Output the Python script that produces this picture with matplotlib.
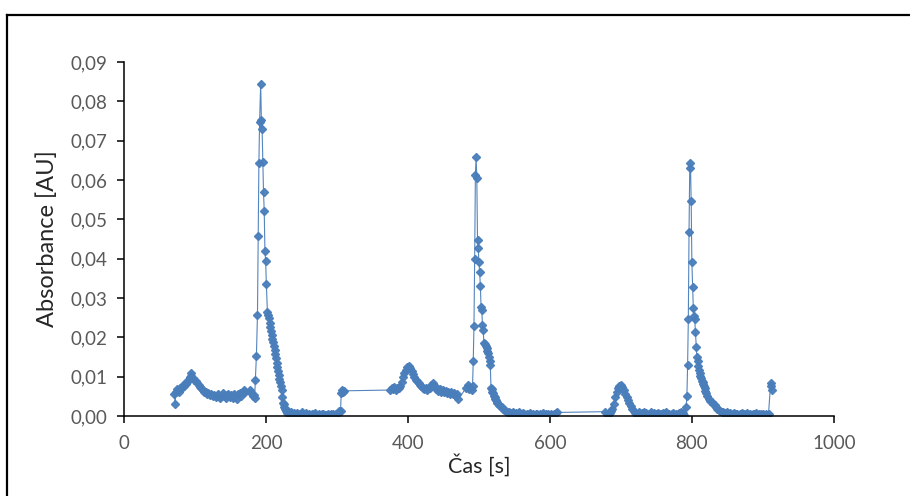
import matplotlib

matplotlib.use("Agg")
import matplotlib.pyplot as plt
from matplotlib.lines import Line2D
from matplotlib.ticker import FuncFormatter, MultipleLocator

# ─────────────────────────────────────────────
# DATA
# ─────────────────────────────────────────────
# baseline + malý pík ~95 s
t_a = [71, 72, 73, 75, 77, 79, 81, 83, 85, 87, 89, 91, 93, 94, 95, 97, 99, 101, 103, 105,
       107, 109, 111, 113, 115, 117, 119, 121, 123, 125, 127, 129, 131, 133, 135, 137, 139,
       141, 143, 145, 147, 149, 151, 153, 155, 157, 159, 161, 163, 165, 167, 169, 171, 177,
       179, 181, 183, 184]
a_a = [0.0055, 0.0030, 0.0060, 0.0068, 0.0062, 0.0072, 0.0070, 0.0078, 0.0075, 0.0082,
       0.0088, 0.0092, 0.0100, 0.0110, 0.0102, 0.0096, 0.0092, 0.0088, 0.0084, 0.0078,
       0.0074, 0.0070, 0.0066, 0.0062, 0.0060, 0.0056, 0.0058, 0.0053, 0.0055, 0.0050,
       0.0054, 0.0048, 0.0052, 0.0056, 0.0047, 0.0052, 0.0058, 0.0050, 0.0046, 0.0053,
       0.0057, 0.0049, 0.0054, 0.0045, 0.0056, 0.0051, 0.0042, 0.0055, 0.0059, 0.0050,
       0.0062, 0.0066, 0.0060, 0.0066, 0.0058, 0.0050, 0.0054, 0.0045]

# pík 1
t_p1 = [185, 186.5, 188, 189, 190, 191, 192.5, 193.5, 194.5, 195.5, 196.5, 197.5, 198.5,
        199.5, 200.5, 202, 203, 204, 205, 206, 207, 208, 209, 210, 211, 212, 213, 214, 215,
        216, 217, 218, 219, 220, 221, 222, 223, 224, 225, 226, 227, 228]
a_p1 = [0.0092, 0.0153, 0.0258, 0.0458, 0.0644, 0.0748, 0.0845, 0.0752, 0.0730, 0.0645,
        0.0570, 0.0521, 0.0420, 0.0394, 0.0336, 0.0265, 0.0256, 0.0248, 0.0237, 0.0227,
        0.0216, 0.0206, 0.0197, 0.0189, 0.0178, 0.0168, 0.0157, 0.0147, 0.0136, 0.0125,
        0.0114, 0.0104, 0.0095, 0.0087, 0.0076, 0.0066, 0.0048, 0.0034, 0.0030, 0.0024,
        0.0019, 0.0013]

# nula po píku 1
t_b = [229, 231, 233, 235, 237, 239, 241, 243, 245, 247, 249, 251, 253, 255, 257, 259, 261,
       263, 265, 267, 269, 271, 273, 275, 277, 279, 281, 283, 285, 287, 289, 291, 293, 295,
       297, 299, 301, 303]
a_b = [0.0008, 0.0012, 0.0006, 0.0009, 0.0004, 0.0007, 0.0003, 0.0008, 0.0005, 0.0002,
       0.0006, 0.0009, 0.0004, 0.0003, 0.0007, 0.0002, 0.0005, 0.0001, 0.0006, 0.0004,
       0.0008, 0.0003, 0.0002, 0.0005, 0.0001, 0.0004, 0.0006, 0.0002, 0.0003, 0.0005,
       0.0001, 0.0004, 0.0002, 0.0006, 0.0003, 0.0005, 0.0008, 0.0012]

t_j = [305, 306, 307, 308, 310]
a_j = [0.0012, 0.0058, 0.0066, 0.0060, 0.0064]

# baseline + malý pík ~400 s
t_c = [375, 377, 379, 381, 383, 385, 387, 389, 391, 393, 395, 397, 399, 401, 403, 405, 407,
       409, 411, 413, 415, 417, 419, 421, 423, 425, 427, 429, 431, 433, 435, 437, 439, 441,
       443, 445, 447, 449, 451, 453, 455, 457, 459, 461, 463, 465, 467, 469, 471, 482, 484,
       486, 488, 490, 491]
a_c = [0.0066, 0.0070, 0.0068, 0.0074, 0.0066, 0.0072, 0.0070, 0.0076, 0.0086, 0.0100,
       0.0110, 0.0118, 0.0124, 0.0128, 0.0122, 0.0114, 0.0106, 0.0098, 0.0092, 0.0088,
       0.0084, 0.0080, 0.0076, 0.0072, 0.0068, 0.0070, 0.0066, 0.0072, 0.0070, 0.0078,
       0.0084, 0.0076, 0.0068, 0.0072, 0.0064, 0.0068, 0.0062, 0.0066, 0.0060, 0.0064,
       0.0058, 0.0062, 0.0056, 0.0060, 0.0055, 0.0058, 0.0052, 0.0056, 0.0042, 0.0072,
       0.0078, 0.0068, 0.0074, 0.0066, 0.0076]

# pík 2
t_p2 = [492, 493, 494, 495, 496, 497, 498, 499, 500, 501, 502, 503, 504, 505, 506, 507, 509,
        510, 511, 512, 513, 514, 515, 516, 517, 518, 519, 520, 521, 522, 523, 524, 525, 526,
        528, 530, 532, 534, 536, 538, 540, 542, 544]
a_p2 = [0.0141, 0.0229, 0.0400, 0.0613, 0.0658, 0.0606, 0.0447, 0.0426, 0.0392, 0.0367,
        0.0331, 0.0278, 0.0270, 0.0231, 0.0219, 0.0185, 0.0182, 0.0178, 0.0172, 0.0165,
        0.0160, 0.0151, 0.0140, 0.0130, 0.0070, 0.0068, 0.0062, 0.0058, 0.0052, 0.0049,
        0.0044, 0.0040, 0.0036, 0.0032, 0.0028, 0.0025, 0.0022, 0.0018, 0.0015, 0.0013,
        0.0011, 0.0010, 0.0008]

# nula po píku 2
t_d = [546, 548, 550, 552, 554, 556, 558, 560, 562, 564, 566, 568, 570, 572, 574, 576, 578,
       580, 582, 584, 586, 588, 590, 592, 594, 596, 598, 600, 602, 604, 606, 608, 610]
a_d = [0.0007, 0.0010, 0.0005, 0.0008, 0.0004, 0.0009, 0.0006, 0.0003, 0.0007, 0.0005,
       0.0002, 0.0006, 0.0004, 0.0008, 0.0003, 0.0005, 0.0001, 0.0004, 0.0006, 0.0002,
       0.0005, 0.0003, 0.0007, 0.0002, 0.0004, 0.0001, 0.0005, 0.0003, 0.0006, 0.0002,
       0.0004, 0.0007, 0.0009]

# malý pík ~700 s
t_e = [678, 680, 682, 684, 686, 688, 690, 692, 694, 696, 698, 700, 702, 704, 706, 708, 710,
       712, 714, 716, 718, 720, 722, 724, 726, 728, 730, 732, 734, 736, 738, 740, 742, 744,
       746, 748, 750, 752, 754, 756, 758, 760, 762, 764, 766, 768, 770, 772, 774, 776, 778,
       780, 782, 784, 786, 788, 790]
a_e = [0.0011, 0.0006, 0.0002, 0.0008, 0.0012, 0.0018, 0.0030, 0.0048, 0.0062, 0.0070,
       0.0075, 0.0078, 0.0073, 0.0065, 0.0056, 0.0048, 0.0040, 0.0032, 0.0025, 0.0018,
       0.0012, 0.0007, 0.0003, 0.0006, 0.0009, 0.0004, 0.0007, 0.0010, 0.0005, 0.0008,
       0.0003, 0.0006, 0.0009, 0.0004, 0.0007, 0.0002, 0.0005, 0.0008, 0.0004, 0.0006,
       0.0003, 0.0007, 0.0005, 0.0009, 0.0004, 0.0006, 0.0002, 0.0005, 0.0008, 0.0003,
       0.0006, 0.0004, 0.0007, 0.0010, 0.0005, 0.0008, 0.0001]

# pík 3
t_p3 = [792, 793, 794, 795, 796, 797, 798, 799, 800, 801, 802, 803, 804, 805, 806, 807, 808,
        809, 810, 811, 812, 813, 814, 815, 816, 817, 818, 819, 820, 822, 824, 826, 828, 830,
        832, 834, 836, 838, 840, 842, 844]
a_p3 = [0.0024, 0.0051, 0.0130, 0.0247, 0.0469, 0.0630, 0.0643, 0.0547, 0.0391, 0.0329,
        0.0275, 0.0255, 0.0247, 0.0214, 0.0176, 0.0150, 0.0140, 0.0128, 0.0118, 0.0109,
        0.0102, 0.0096, 0.0090, 0.0086, 0.0082, 0.0076, 0.0070, 0.0064, 0.0058, 0.0050,
        0.0044, 0.0039, 0.0035, 0.0030, 0.0027, 0.0024, 0.0019, 0.0015, 0.0013, 0.0011,
        0.0010]

# nula po píku 3 + konec
t_f = [846, 848, 850, 852, 854, 856, 858, 860, 862, 864, 866, 868, 870, 872, 874, 876, 878,
       880, 882, 884, 886, 888, 890, 892, 894, 896, 898, 900, 902, 904, 906, 908, 911, 912, 913]
a_f = [0.0008, 0.0005, 0.0009, 0.0004, 0.0007, 0.0003, 0.0006, 0.0008, 0.0004, 0.0006,
       0.0002, 0.0005, 0.0007, 0.0003, 0.0006, 0.0004, 0.0008, 0.0002, 0.0005, 0.0003,
       0.0006, 0.0004, 0.0007, 0.0002, 0.0005, 0.0003, 0.0006, 0.0004, 0.0002, 0.0005,
       0.0003, 0.0006, 0.0083, 0.0075, 0.0066]

cas = t_a + t_p1 + t_b + t_j + t_c + t_p2 + t_d + t_e + t_p3 + t_f
absorbance = a_a + a_p1 + a_b + a_j + a_c + a_p2 + a_d + a_e + a_p3 + a_f

# ─────────────────────────────────────────────
# PLOT
# ─────────────────────────────────────────────
plt.rcParams["font.family"] = ["Lato", "DejaVu Sans"]
BLUE = "#4A7EBB"
GRAY = "#595959"

fig = plt.figure(figsize=(9.1, 4.96), dpi=100)
ax = fig.add_axes([0.1363, 0.1613, 0.78, 0.7137])

ax.plot(cas, absorbance, color=BLUE, lw=0.8, marker="D", ms=4.4,
        mec=BLUE, mfc=BLUE, alpha=0.95)

ax.set_xlim(0, 1000)
ax.set_ylim(0, 0.09)
ax.xaxis.set_major_locator(MultipleLocator(200))
ax.yaxis.set_major_locator(MultipleLocator(0.01))
ax.xaxis.set_major_formatter(FuncFormatter(lambda v, p: f"{v:.0f}"))
ax.yaxis.set_major_formatter(FuncFormatter(lambda v, p: f"{v:.2f}".replace(".", ",")))

for s in ["top", "right"]:
    ax.spines[s].set_visible(False)
for s in ["left", "bottom"]:
    ax.spines[s].set_linewidth(1.1)
    ax.spines[s].set_color("black")

ax.tick_params(axis="both", direction="out", length=5, width=1.1, color="black",
               labelsize=13.5, labelcolor=GRAY)
ax.tick_params(axis="y", pad=7)
ax.tick_params(axis="x", pad=9)

ax.set_xlabel("Čas [s]", fontsize=15.5, color="#262626", labelpad=1)
ax.set_ylabel("Absorbance [AU]", fontsize=17, color="#262626", labelpad=9)

# rámeček grafu (Excel)
fig.add_artist(Line2D([7 / 910, 7 / 910], [0, 1 - 15 / 496], transform=fig.transFigure,
                      color="black", lw=1.6))
fig.add_artist(Line2D([7 / 910, 1], [1 - 15 / 496, 1 - 15 / 496], transform=fig.transFigure,
                      color="black", lw=1.6))

fig.savefig("out.png", dpi=100)
